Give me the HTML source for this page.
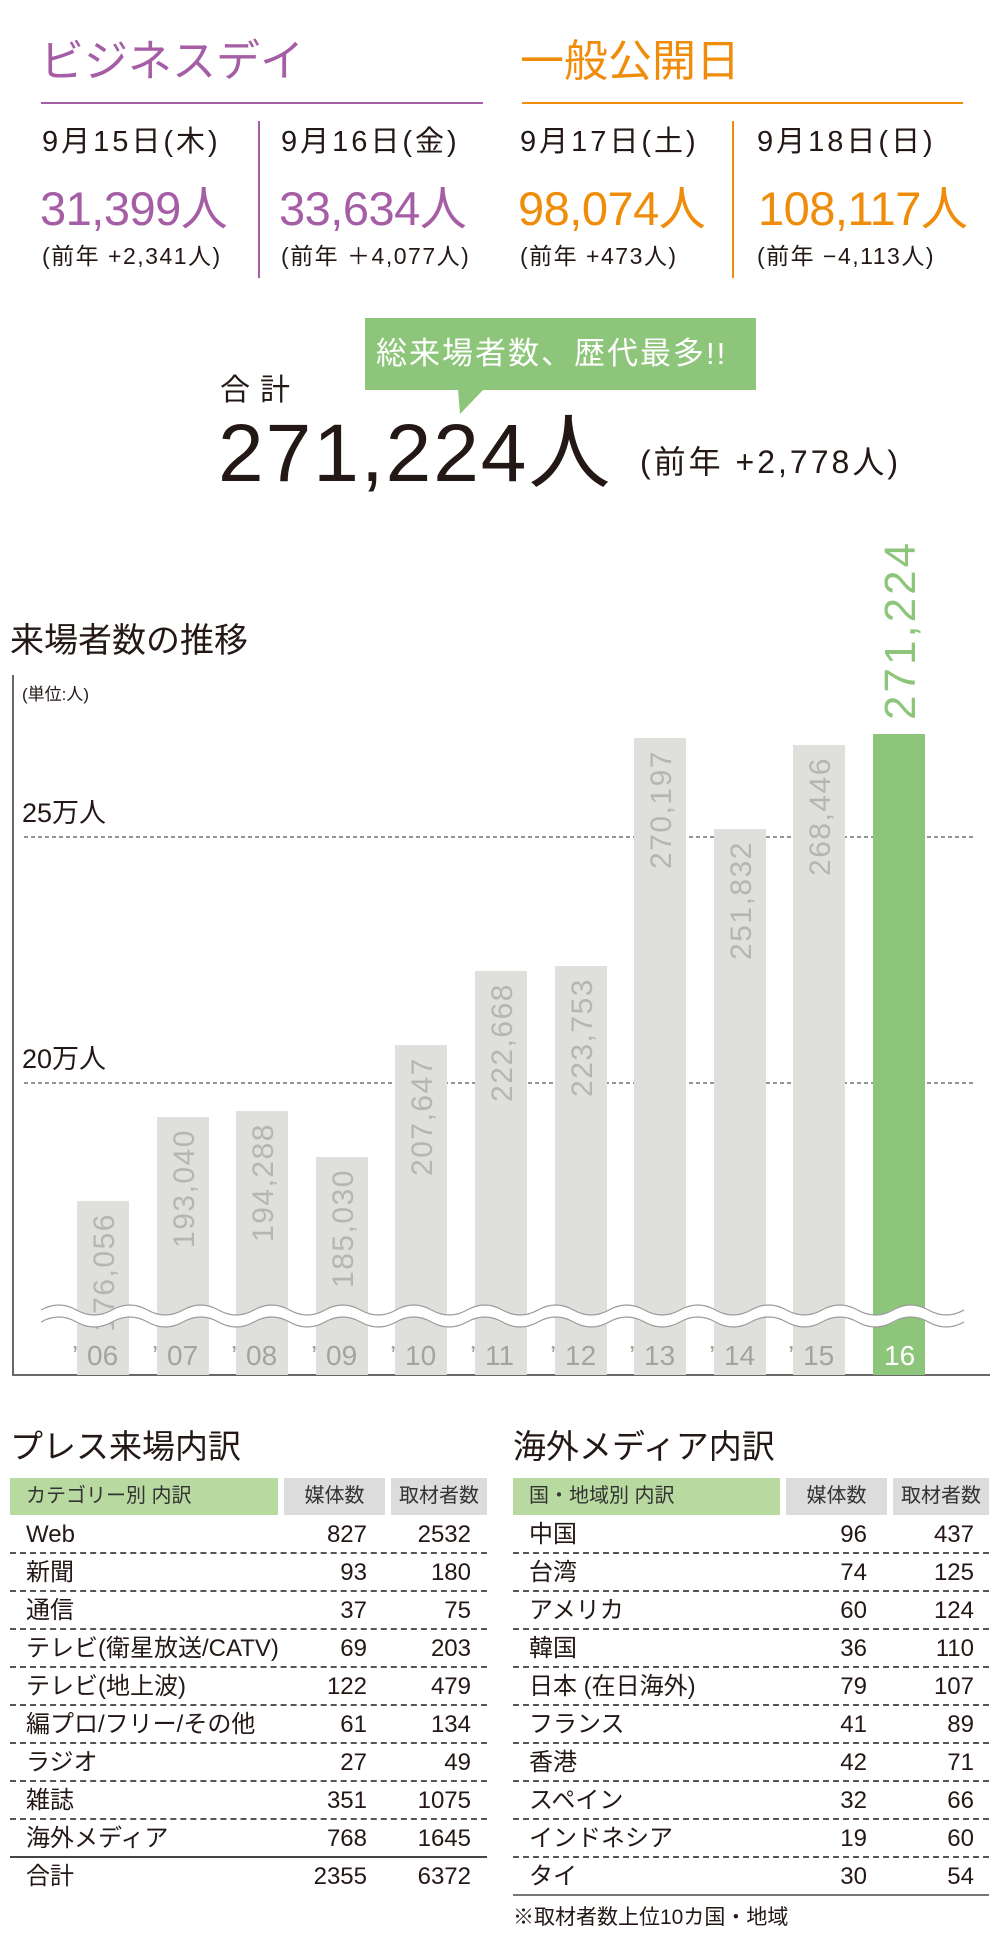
<!DOCTYPE html>
<html><head><meta charset="utf-8">
<style>
html,body{margin:0;padding:0;background:#fff;}
body{width:1000px;height:1950px;position:relative;overflow:hidden;font-family:"Liberation Sans","Noto Sans CJK JP",sans-serif;color:#231815;}
.a{position:absolute;white-space:nowrap;line-height:1;}
.pu{color:#a55ea5}.or{color:#ef8c0a}
.hdr{position:absolute;height:37px;font-size:20px;line-height:37px;color:#333;}
.row{position:absolute;height:38px;font-size:24px;line-height:38px;border-bottom:2px dashed #555;box-sizing:border-box;}
.row span{position:absolute;top:0}
.d{font-size:29px;letter-spacing:3px;top:128px}
.n{font-size:47px;letter-spacing:-0.5px;top:185px}
.p{font-size:23px;letter-spacing:1.5px;top:245px}
</style></head><body>

<div class="a pu" style="left:40px;top:40px;font-size:44px;">ビジネスデイ</div>
<div class="a or" style="left:520px;top:40px;font-size:44px;">一般公開日</div>
<div class="a" style="left:41px;top:102px;width:442px;height:2px;background:#a55ea5"></div>
<div class="a" style="left:522px;top:102px;width:441px;height:2px;background:#ef8c0a"></div>
<div class="a" style="left:258px;top:121px;width:2px;height:157px;background:#a55ea5"></div>
<div class="a" style="left:732px;top:121px;width:2px;height:157px;background:#ef8c0a"></div>

<div class="a d" style="left:42px;">9月15日(木)</div>
<div class="a d" style="left:281px;">9月16日(金)</div>
<div class="a d" style="left:520px;">9月17日(土)</div>
<div class="a d" style="left:757px;">9月18日(日)</div>

<div class="a pu n" style="left:40px;">31,399人</div>
<div class="a pu n" style="left:279px;">33,634人</div>
<div class="a or n" style="left:518px;">98,074人</div>
<div class="a or n" style="left:758px;">108,117人</div>

<div class="a p" style="left:42px;">(前年 +2,341人)</div>
<div class="a p" style="left:281px;">(前年 ＋4,077人)</div>
<div class="a p" style="left:520px;">(前年 +473人)</div>
<div class="a p" style="left:757px;">(前年 −4,113人)</div>

<div class="a" style="left:365px;top:318px;width:391px;height:72px;background:#8dc57a;"></div>
<svg class="a" style="left:0;top:0" width="1000" height="450"><polygon points="458,389 484,389 460,414" fill="#8dc57a"/></svg>
<div class="a" style="left:376px;top:338px;font-size:31px;letter-spacing:2px;color:#fff;">総来場者数、歴代最多!!</div>

<div class="a" style="left:220px;top:376px;font-size:30px;letter-spacing:10px;">合計</div>
<div class="a" style="left:218px;top:413px;font-size:82px;letter-spacing:2px;">271,224人</div>
<div class="a" style="left:640px;top:446px;font-size:32px;letter-spacing:3px;">(前年 +2,778人)</div>

<div class="a" style="left:10px;top:624px;font-size:34px;">来場者数の推移</div>
<div class="a" style="left:22px;top:686px;font-size:17px;">(単位:人)</div>
<div class="a" style="left:22px;top:800px;font-size:27px;">25万人</div>
<div class="a" style="left:22px;top:1046px;font-size:27px;">20万人</div>

<svg class="a" style="left:0;top:0" width="1000" height="1400" font-family="Liberation Sans, sans-serif">
<line x1="13" y1="675" x2="13" y2="1375" stroke="#6b6766" stroke-width="2"/>
<line x1="12" y1="1375" x2="990" y2="1375" stroke="#6b6766" stroke-width="2"/>
<line x1="24" y1="837" x2="975" y2="837" stroke="#555" stroke-width="1.3" stroke-dasharray="4,3"/>
<line x1="24" y1="1083" x2="975" y2="1083" stroke="#555" stroke-width="1.3" stroke-dasharray="4,3"/>
<g fill="#dfdfdb">
<rect x="77" y="1201" width="52" height="174"/>
<rect x="157" y="1117" width="52" height="258"/>
<rect x="236" y="1111" width="52" height="264"/>
<rect x="316" y="1157" width="52" height="218"/>
<rect x="395" y="1045" width="52" height="330"/>
<rect x="475" y="971" width="52" height="404"/>
<rect x="555" y="966" width="52" height="409"/>
<rect x="634" y="738" width="52" height="637"/>
<rect x="714" y="829" width="52" height="546"/>
<rect x="793" y="745" width="52" height="630"/>
</g>
<rect x="873" y="734" width="52" height="641" fill="#8dc57a"/>
<g fill="#b5b5b3" font-size="30" letter-spacing="1.5" text-anchor="end">
<text transform="translate(114,1213) rotate(-90)">176,056</text>
<text transform="translate(194,1129) rotate(-90)">193,040</text>
<text transform="translate(273,1123) rotate(-90)">194,288</text>
<text transform="translate(353,1169) rotate(-90)">185,030</text>
<text transform="translate(432,1057) rotate(-90)">207,647</text>
<text transform="translate(512,983) rotate(-90)">222,668</text>
<text transform="translate(592,978) rotate(-90)">223,753</text>
<text transform="translate(671,750) rotate(-90)">270,197</text>
<text transform="translate(751,841) rotate(-90)">251,832</text>
<text transform="translate(830,757) rotate(-90)">268,446</text>
</g>
<text transform="translate(915,720) rotate(-90)" fill="#8dc57a" font-size="44" letter-spacing="3">271,224</text>
<g fill="none">
<path d="M41,1316 q17.75,-10 35.5,0 t35.5,0 t35.5,0 t35.5,0 t35.5,0 t35.5,0 t35.5,0 t35.5,0 t35.5,0 t35.5,0 t35.5,0 t35.5,0 t35.5,0 t35.5,0 t35.5,0 t35.5,0 t35.5,0 t35.5,0 t35.5,0 t35.5,0 t35.5,0 t35.5,0 t35.5,0 t35.5,0 t35.5,0 t35.5,0" stroke="#fff" stroke-width="12"/>
<path d="M41,1310 q17.75,-10 35.5,0 t35.5,0 t35.5,0 t35.5,0 t35.5,0 t35.5,0 t35.5,0 t35.5,0 t35.5,0 t35.5,0 t35.5,0 t35.5,0 t35.5,0 t35.5,0 t35.5,0 t35.5,0 t35.5,0 t35.5,0 t35.5,0 t35.5,0 t35.5,0 t35.5,0 t35.5,0 t35.5,0 t35.5,0 t35.5,0" stroke="#999" stroke-width="1.2"/>
<path d="M41,1322 q17.75,-10 35.5,0 t35.5,0 t35.5,0 t35.5,0 t35.5,0 t35.5,0 t35.5,0 t35.5,0 t35.5,0 t35.5,0 t35.5,0 t35.5,0 t35.5,0 t35.5,0 t35.5,0 t35.5,0 t35.5,0 t35.5,0 t35.5,0 t35.5,0 t35.5,0 t35.5,0 t35.5,0 t35.5,0 t35.5,0 t35.5,0" stroke="#999" stroke-width="1.2"/>
</g>
<g fill="#a3a3a1" font-size="28">
<text x="72" y="1365">’</text><text x="87" y="1365">06</text>
<text x="152" y="1365">’</text><text x="167" y="1365">07</text>
<text x="231" y="1365">’</text><text x="246" y="1365">08</text>
<text x="311" y="1365">’</text><text x="326" y="1365">09</text>
<text x="390" y="1365">’</text><text x="405" y="1365">10</text>
<text x="470" y="1365">’</text><text x="485" y="1365">11</text>
<text x="550" y="1365">’</text><text x="565" y="1365">12</text>
<text x="629" y="1365">’</text><text x="644" y="1365">13</text>
<text x="709" y="1365">’</text><text x="724" y="1365">14</text>
<text x="788" y="1365">’</text><text x="803" y="1365">15</text>
</g>
<text x="884" y="1365" fill="#fff" font-size="28">16</text>
</svg>

<div class="a" style="left:10px;top:1430px;font-size:33px;">プレス来場内訳</div>
<div class="a" style="left:513px;top:1430px;font-size:33px;">海外メディア内訳</div>

<div class="hdr" style="left:10px;top:1478px;width:268px;background:#b8d9a0;padding-left:16px;box-sizing:border-box;">カテゴリー別 内訳</div>
<div class="hdr" style="left:284px;top:1478px;width:101px;background:#dcdcdc;text-align:center;">媒体数</div>
<div class="hdr" style="left:391px;top:1478px;width:96px;background:#dcdcdc;text-align:center;">取材者数</div>

<div class="hdr" style="left:513px;top:1478px;width:267px;background:#b8d9a0;padding-left:16px;box-sizing:border-box;">国・地域別 内訳</div>
<div class="hdr" style="left:786px;top:1478px;width:101px;background:#dcdcdc;text-align:center;">媒体数</div>
<div class="hdr" style="left:893px;top:1478px;width:96px;background:#dcdcdc;text-align:center;">取材者数</div>

<div class="row" style="left:10px;top:1516px;width:477px;"><span style="left:16px">Web</span><span style="right:120px">827</span><span style="right:16px">2532</span></div>
<div class="row" style="left:10px;top:1554px;width:477px;"><span style="left:16px">新聞</span><span style="right:120px">93</span><span style="right:16px">180</span></div>
<div class="row" style="left:10px;top:1592px;width:477px;"><span style="left:16px">通信</span><span style="right:120px">37</span><span style="right:16px">75</span></div>
<div class="row" style="left:10px;top:1630px;width:477px;"><span style="left:16px">テレビ(衛星放送/CATV)</span><span style="right:120px">69</span><span style="right:16px">203</span></div>
<div class="row" style="left:10px;top:1668px;width:477px;"><span style="left:16px">テレビ(地上波)</span><span style="right:120px">122</span><span style="right:16px">479</span></div>
<div class="row" style="left:10px;top:1706px;width:477px;"><span style="left:16px">編プロ/フリー/その他</span><span style="right:120px">61</span><span style="right:16px">134</span></div>
<div class="row" style="left:10px;top:1744px;width:477px;"><span style="left:16px">ラジオ</span><span style="right:120px">27</span><span style="right:16px">49</span></div>
<div class="row" style="left:10px;top:1782px;width:477px;"><span style="left:16px">雑誌</span><span style="right:120px">351</span><span style="right:16px">1075</span></div>
<div class="row" style="left:10px;top:1820px;width:477px;border-bottom:2px solid #444;"><span style="left:16px">海外メディア</span><span style="right:120px">768</span><span style="right:16px">1645</span></div>
<div class="row" style="left:10px;top:1858px;width:477px;border:none;"><span style="left:16px">合計</span><span style="right:120px">2355</span><span style="right:16px">6372</span></div>

<div class="row" style="left:513px;top:1516px;width:476px;"><span style="left:16px">中国</span><span style="right:122px">96</span><span style="right:15px">437</span></div>
<div class="row" style="left:513px;top:1554px;width:476px;"><span style="left:16px">台湾</span><span style="right:122px">74</span><span style="right:15px">125</span></div>
<div class="row" style="left:513px;top:1592px;width:476px;"><span style="left:16px">アメリカ</span><span style="right:122px">60</span><span style="right:15px">124</span></div>
<div class="row" style="left:513px;top:1630px;width:476px;"><span style="left:16px">韓国</span><span style="right:122px">36</span><span style="right:15px">110</span></div>
<div class="row" style="left:513px;top:1668px;width:476px;"><span style="left:16px">日本 (在日海外)</span><span style="right:122px">79</span><span style="right:15px">107</span></div>
<div class="row" style="left:513px;top:1706px;width:476px;"><span style="left:16px">フランス</span><span style="right:122px">41</span><span style="right:15px">89</span></div>
<div class="row" style="left:513px;top:1744px;width:476px;"><span style="left:16px">香港</span><span style="right:122px">42</span><span style="right:15px">71</span></div>
<div class="row" style="left:513px;top:1782px;width:476px;"><span style="left:16px">スペイン</span><span style="right:122px">32</span><span style="right:15px">66</span></div>
<div class="row" style="left:513px;top:1820px;width:476px;"><span style="left:16px">インドネシア</span><span style="right:122px">19</span><span style="right:15px">60</span></div>
<div class="row" style="left:513px;top:1858px;width:476px;border-bottom:2px solid #777;"><span style="left:16px">タイ</span><span style="right:122px">30</span><span style="right:15px">54</span></div>
<div class="a" style="left:513px;top:1907px;font-size:21px;">※取材者数上位10カ国・地域</div>
</body></html>
